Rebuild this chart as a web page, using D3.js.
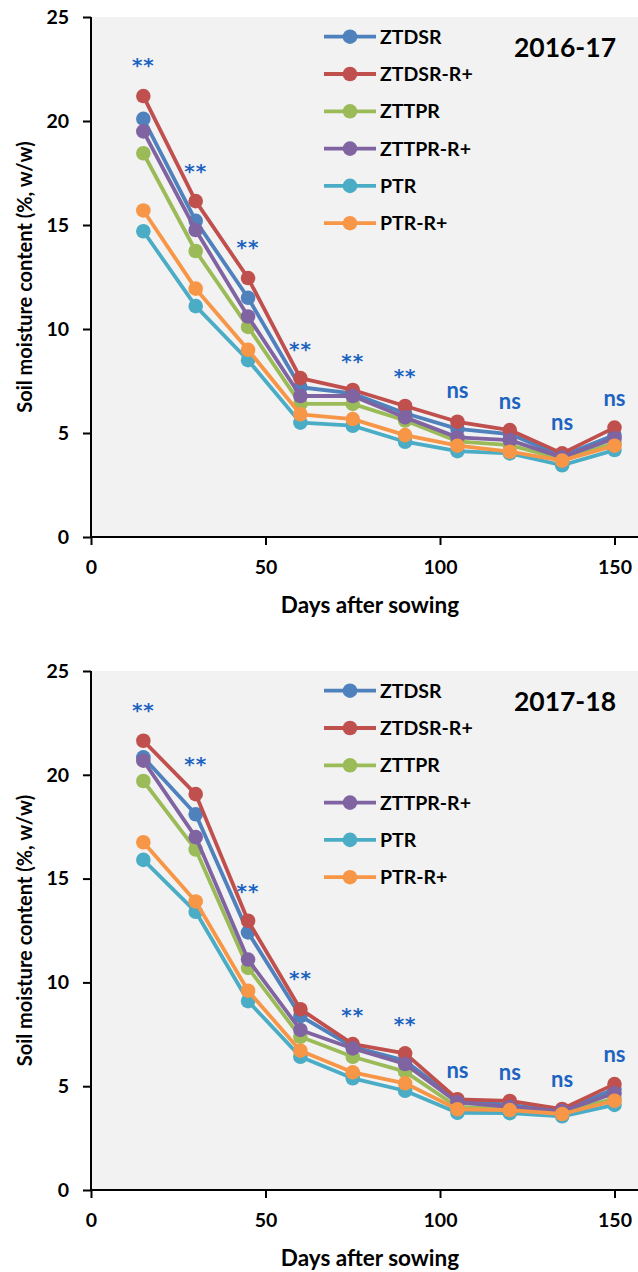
<!DOCTYPE html>
<html><head><meta charset="utf-8">
<script src="https://cdn.jsdelivr.net/npm/d3@7/dist/d3.min.js"></script>
<style>html,body{margin:0;padding:0;background:#fff;}svg{display:block;}</style>
</head><body>
<script>
const days = [15, 30, 45, 60, 75, 90, 105, 120, 135, 150];
const seriesNames = ["ZTDSR", "ZTDSR-R+", "ZTTPR", "ZTTPR-R+", "PTR", "PTR-R+"];
const seriesColors = ["#4F81BD", "#C0504D", "#9BBB59", "#8064A2", "#4BACC6", "#F79646"];
const xTicks = [0, 50, 100, 150];
const yTicks = [0, 5, 10, 15, 20, 25];
const seasons = ["2016-17", "2017-18"];

// 2016-17
const ztdsr2016   = [20.1, 15.2, 11.5, 7.2, 6.9, 5.95, 5.2, 4.95, 3.9, 4.9];
const ztdsrR2016  = [21.2, 16.15, 12.45, 7.64, 7.07, 6.3, 5.54, 5.14, 4.02, 5.26];
const zttpr2016   = [18.45, 13.75, 10.1, 6.4, 6.4, 5.6, 4.6, 4.42, 3.75, 4.5];
const zttprR2016  = [19.5, 14.76, 10.6, 6.78, 6.78, 5.75, 4.79, 4.66, 3.83, 4.74];
const ptr2016     = [14.7, 11.1, 8.5, 5.5, 5.35, 4.58, 4.13, 4.02, 3.45, 4.18];
const ptrR2016    = [15.7, 11.94, 9.0, 5.9, 5.67, 4.9, 4.39, 4.1, 3.67, 4.39];
const sig2016     = ["**", "**", "**", "**", "**", "**", "ns", "ns", "ns", "ns"];
const sigY2016    = [22.95, 17.85, 14.2, 9.3, 8.7, 8.0, 7.0, 6.5, 5.45, 6.6];

// 2017-18
const ztdsr2017   = [20.84, 18.1, 12.41, 8.38, 6.9, 6.23, 4.3, 4.1, 3.8, 4.86];
const ztdsrR2017  = [21.64, 19.07, 12.97, 8.71, 7.03, 6.58, 4.37, 4.29, 3.9, 5.1];
const zttpr2017   = [19.7, 16.4, 10.7, 7.38, 6.42, 5.7, 4.0, 3.9, 3.75, 4.4];
const zttprR2017  = [20.68, 17.0, 11.1, 7.71, 6.82, 6.07, 4.22, 4.0, 3.8, 4.66];
const ptr2017     = [15.9, 13.4, 9.1, 6.42, 5.38, 4.78, 3.72, 3.7, 3.55, 4.1];
const ptrR2017    = [16.75, 13.9, 9.6, 6.71, 5.67, 5.14, 3.89, 3.85, 3.66, 4.3];
const sig2017     = ["**", "**", "**", "**", "**", "**", "ns", "ns", "ns", "ns"];
const sigY2017    = [23.36, 20.75, 14.66, 10.44, 8.67, 8.24, 5.7, 5.62, 5.3, 6.5];

const panelData = [
  {season: seasons[0], values: [ztdsr2016, ztdsrR2016, zttpr2016, zttprR2016, ptr2016, ptrR2016], sig: sig2016, sigY: sigY2016, top: 17, bottom: 537},
  {season: seasons[1], values: [ztdsr2017, ztdsrR2017, zttpr2017, zttprR2017, ptr2017, ptrR2017], sig: sig2017, sigY: sigY2017, top: 671, bottom: 1190}
];

const W = 638, H = 1272;
const FONT = "Lato, 'Open Sans', sans-serif";
const svg = d3.select("body").append("svg").attr("width", W).attr("height", H);

const x = d3.scaleLinear().domain([0, 150]).range([91, 614.5]);

panelData.forEach(p => {
  const g = svg.append("g");
  const y = d3.scaleLinear().domain([0, 25]).range([p.bottom, p.top]);

  g.append("rect").attr("x", 91).attr("y", p.top).attr("width", W - 91).attr("height", p.bottom - p.top).attr("fill", "#F2F2F2");

  // axes
  const yAxis = d3.axisLeft(y).tickValues(yTicks).tickSize(8).tickPadding(14);
  const ya = g.append("g").attr("transform", "translate(91,0)").call(yAxis);
  const xAxis = d3.axisBottom(x).tickValues(xTicks).tickSize(8).tickPadding(15);
  const xa = g.append("g").attr("transform", `translate(0,${p.bottom})`).call(xAxis);
  [ya, xa].forEach(a => {
    a.select(".domain").attr("stroke", "#000").attr("stroke-width", 2);
    a.selectAll(".tick line").attr("stroke", "#000").attr("stroke-width", 2);
    a.selectAll(".tick text").attr("font-family", FONT).attr("font-weight", "bold").attr("font-size", 19.5).attr("fill", "#000");
  });
  ya.select(".domain").attr("d", `M0,${p.bottom}V${p.top}`);
  xa.select(".domain").attr("d", `M91,0H${W}`);

  // axis titles
  g.append("text").attr("x", 370).attr("y", p.bottom + 76)
    .attr("text-anchor", "middle").attr("font-family", FONT).attr("font-weight", "bold").attr("font-size", 22.5)
    .text("Days after sowing");
  g.append("text").attr("transform", `translate(32,${(p.top + p.bottom) / 2}) rotate(-90)`)
    .attr("text-anchor", "middle").attr("font-family", FONT).attr("font-weight", "bold").attr("font-size", 20)
    .text("Soil moisture content (%, w/w)");

  // series lines
  const line = d3.line().x((d, i) => x(days[i])).y(d => y(d));
  p.values.forEach((vals, si) => {
    g.append("path").datum(vals).attr("d", line).attr("fill", "none")
      .attr("stroke", seriesColors[si]).attr("stroke-width", 3.8).attr("stroke-linejoin", "round");
    g.selectAll(null).data(vals).enter().append("circle")
      .attr("cx", (d, i) => x(days[i])).attr("cy", d => y(d)).attr("r", 7.3)
      .attr("fill", seriesColors[si]);
  });

  // significance labels
  g.selectAll(null).data(p.sig).enter().append("text")
    .attr("x", (d, i) => x(days[i])).attr("y", (d, i) => y(p.sigY[i]))
    .attr("text-anchor", "middle").attr("dominant-baseline", "central")
    .attr("font-family", d => d === "ns" ? FONT : "'DejaVu Sans', sans-serif")
    .attr("font-weight", "bold")
    .attr("font-size", d => d === "ns" ? 22 : 20)
    .attr("letter-spacing", d => d === "ns" ? 0 : 1)
    .attr("dy", d => d === "ns" ? "-0.08em" : "0.26em")
    .attr("fill", "#1D63C1").text(d => d);

  // legend
  const lg = g.append("g");
  seriesNames.forEach((name, si) => {
    const ly = p.top + 19.7 + si * 37.3;
    lg.append("line").attr("x1", 324).attr("x2", 376).attr("y1", ly).attr("y2", ly)
      .attr("stroke", seriesColors[si]).attr("stroke-width", 3.8);
    lg.append("circle").attr("cx", 350).attr("cy", ly).attr("r", 7.3).attr("fill", seriesColors[si]);
    lg.append("text").attr("x", 380).attr("y", ly + 7)
      .attr("font-family", FONT).attr("font-weight", "bold").attr("font-size", 19.5).text(name);
  });

  // season
  g.append("text").attr("x", 616).attr("y", p.top + 40).attr("text-anchor", "end")
    .attr("font-family", FONT).attr("font-weight", "bold").attr("font-size", 26.5).text(p.season);
});
</script>
</body></html>
